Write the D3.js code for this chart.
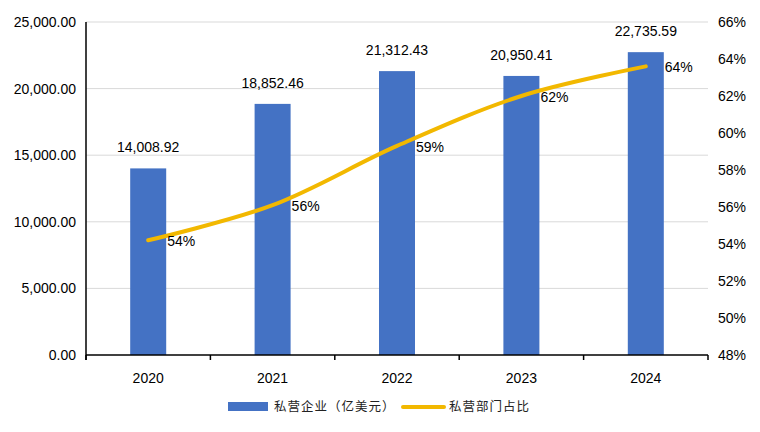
<!DOCTYPE html>
<html><head><meta charset="utf-8">
<script src="https://cdn.jsdelivr.net/npm/d3@7"></script>
<style>body{margin:0;background:#fff}svg{display:block}</style>
</head><body>
<svg id="c" width="760" height="432"></svg>
<script>
const years = ["2020","2021","2022","2023","2024"];
const privateValues = [14008.92, 18852.46, 21312.43, 20950.41, 22735.59];
const shareValues = [54.2, 56.1, 59.3, 62.0, 63.6];
const shareLabels = ["54%","56%","59%","62%","64%"];
const leftTicks = [0, 5000, 10000, 15000, 20000, 25000];
const rightTicks = [48, 50, 52, 54, 56, 58, 60, 62, 64, 66];
const seriesNames = ["私营企业（亿美元）", "私营部门占比"];

const svg = d3.select("#c");
const L = 86, R = 708, T = 22, B = 355;
const font = "Liberation Sans, Arial, sans-serif";
const fs = 14;
const blue = "#4472C4", gold = "#F2B800";

const x = d3.scaleBand().domain(years).range([L, R]).paddingInner(0).paddingOuter(0);
const yL = d3.scaleLinear().domain([0, 25000]).range([B, T]);
const yR = d3.scaleLinear().domain([48, 66]).range([B, T]);

// gridlines
svg.append("g").selectAll("line").data(leftTicks.slice(1)).join("line")
  .attr("x1", L).attr("x2", R).attr("y1", d => yL(d)).attr("y2", d => yL(d))
  .attr("stroke", "#d9d9d9").attr("stroke-width", 1);

// left tick labels
const fmt = d3.format(",.2f");
svg.append("g").selectAll("text").data(leftTicks).join("text")
  .attr("x", 76).attr("y", d => yL(d)).attr("dy", "0.35em")
  .attr("text-anchor", "end").attr("font-family", font).attr("font-size", fs).attr("fill", "#000")
  .text(d => fmt(d));

// right tick labels
svg.append("g").selectAll("text").data(rightTicks).join("text")
  .attr("x", 718).attr("y", d => yR(d)).attr("dy", "0.35em")
  .attr("text-anchor", "start").attr("font-family", font).attr("font-size", fs).attr("fill", "#000")
  .text(d => d + "%");

// bars
const bw = 36;
svg.append("g").selectAll("rect").data(years).join("rect")
  .attr("x", d => x(d) + x.bandwidth()/2 - bw/2)
  .attr("width", bw)
  .attr("y", (d,i) => yL(privateValues[i]))
  .attr("height", (d,i) => B - yL(privateValues[i]))
  .attr("fill", blue);

// bar labels
svg.append("g").selectAll("text").data(years).join("text")
  .attr("x", d => x(d) + x.bandwidth()/2)
  .attr("y", (d,i) => yL(privateValues[i]) - 16)
  .attr("text-anchor", "middle").attr("font-family", font).attr("font-size", fs).attr("fill", "#000")
  .text((d,i) => fmt(privateValues[i]));

// axes lines
svg.append("line").attr("x1", L).attr("x2", L).attr("y1", T).attr("y2", B + 5)
  .attr("stroke", "#000").attr("stroke-width", 1.5);
svg.append("line").attr("x1", L).attr("x2", R).attr("y1", B).attr("y2", B)
  .attr("stroke", "#000").attr("stroke-width", 1.5);
const bounds = years.map(d => x(d)).concat([R]);
svg.append("g").selectAll("line").data(bounds).join("line")
  .attr("x1", d => d).attr("x2", d => d).attr("y1", B).attr("y2", B + 5)
  .attr("stroke", "#000").attr("stroke-width", 1.5);

// x labels
svg.append("g").selectAll("text").data(years).join("text")
  .attr("x", d => x(d) + x.bandwidth()/2).attr("y", 378).attr("dy", "0.35em")
  .attr("text-anchor", "middle").attr("font-family", font).attr("font-size", fs).attr("fill", "#000")
  .text(d => d);

// line
const line = d3.line().curve(d3.curveCatmullRom.alpha(0.5))
  .x((d,i) => x(years[i]) + x.bandwidth()/2).y(d => yR(d));
svg.append("path").datum(shareValues).attr("d", line)
  .attr("fill", "none").attr("stroke", gold).attr("stroke-width", 4).attr("stroke-linecap", "round");

// line labels
svg.append("g").selectAll("text").data(shareValues).join("text")
  .attr("x", (d,i) => x(years[i]) + x.bandwidth()/2 + 19)
  .attr("y", d => yR(d) + 1).attr("dy", "0.35em")
  .attr("text-anchor", "start").attr("font-family", font).attr("font-size", fs).attr("fill", "#000")
  .text((d,i) => shareLabels[i]);

// legend
const lg = svg.append("g");
lg.append("rect").attr("x", 228).attr("y", 402).attr("width", 40).attr("height", 9).attr("fill", blue);
lg.append("text").attr("x", 274).attr("y", 407).attr("dy", "0.35em")
  .attr("font-family", "Noto Sans CJK SC, sans-serif").attr("font-size", 12.5).attr("fill", "#222")
  .attr("letter-spacing", 1)
  .text(seriesNames[0]);
lg.append("line").attr("x1", 403).attr("x2", 444).attr("y1", 407).attr("y2", 407)
  .attr("stroke", gold).attr("stroke-width", 4).attr("stroke-linecap", "round");
lg.append("text").attr("x", 449).attr("y", 407).attr("dy", "0.35em")
  .attr("font-family", "Noto Sans CJK SC, sans-serif").attr("font-size", 12.5).attr("fill", "#222")
  .attr("letter-spacing", 1)
  .text(seriesNames[1]);
</script>
</body></html>
